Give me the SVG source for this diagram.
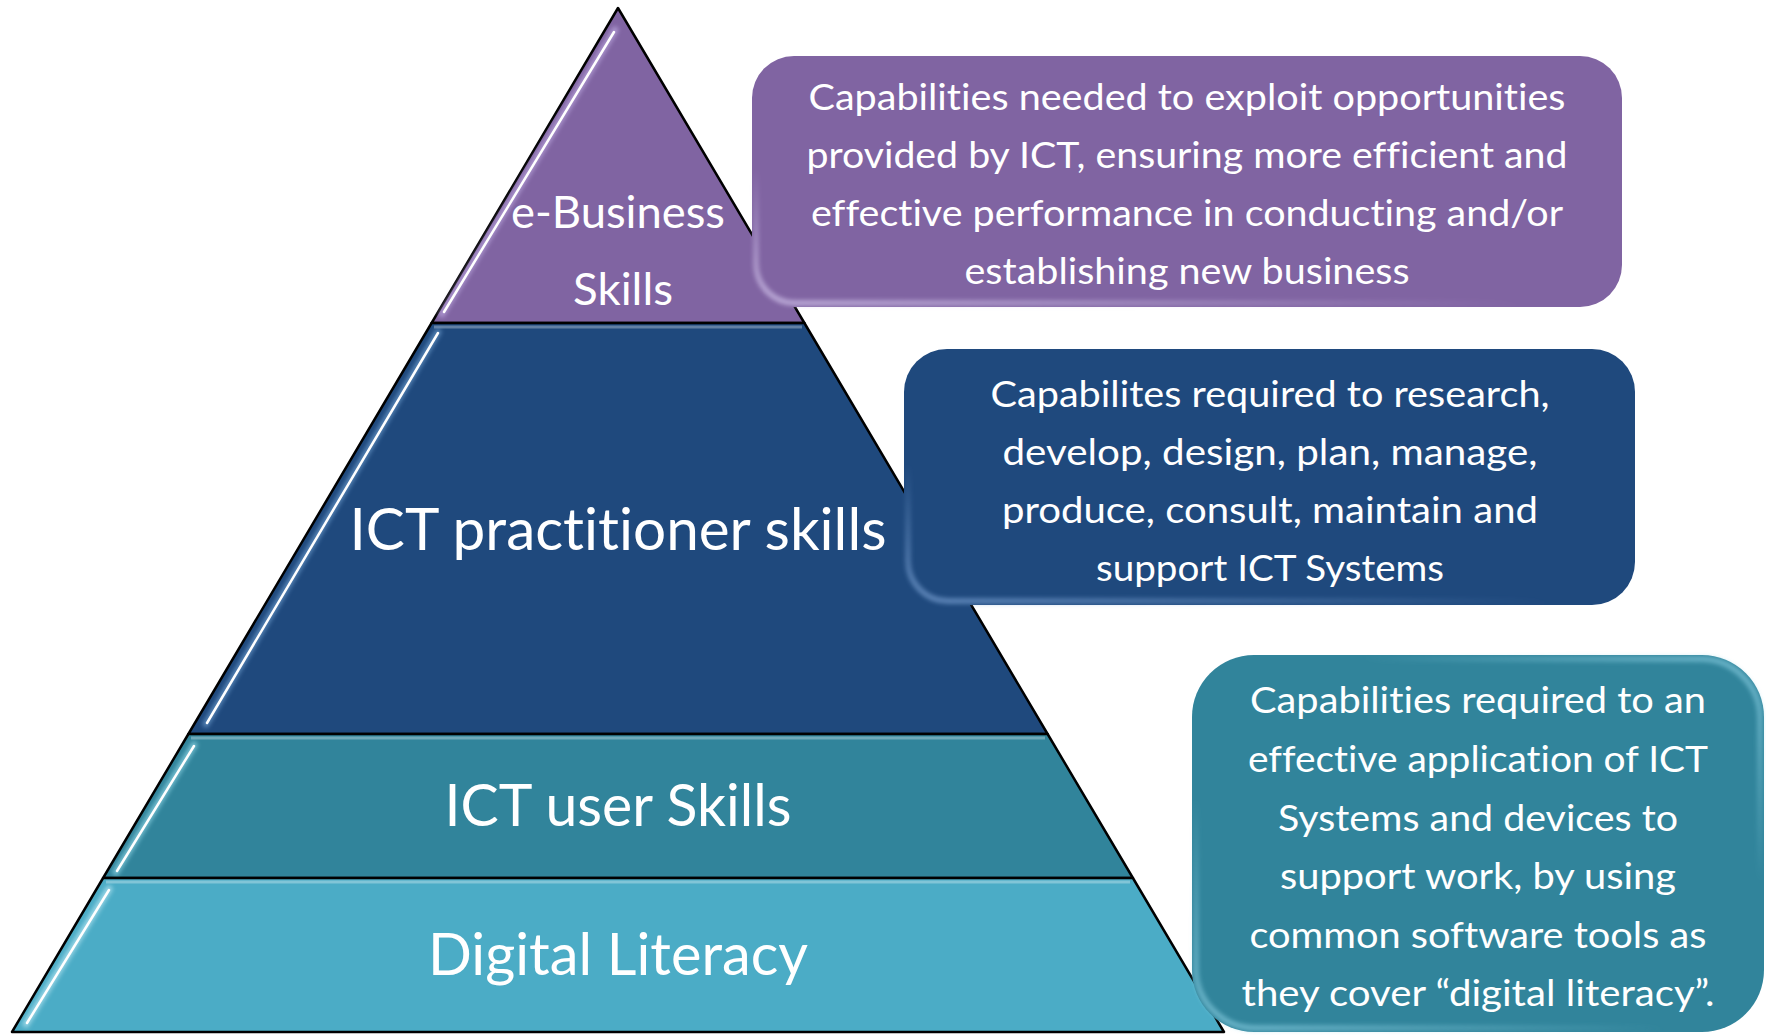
<svg xmlns="http://www.w3.org/2000/svg" width="1766" height="1035" viewBox="0 0 1766 1035">
  <defs>
    <style>
      .layer { stroke: #000000; stroke-width: 2.5; stroke-linejoin: round; }
      .lbl { font-family: Lato, "Open Sans", "Liberation Sans", sans-serif; fill: #ffffff; text-anchor: middle; font-variant-ligatures: none; font-feature-settings: "liga" 0, "clig" 0; }
      .big { font-size: 58px; }
      .mid { font-size: 45px; }
      .box { font-size: 36px; }
      .hlw { fill: none; stroke: #ffffff; stroke-width: 2.5; stroke-linecap: round; }
      .hlg { fill: none; stroke-width: 7; stroke-linecap: round; opacity: 0.55; }
      .topl { fill: none; stroke: #ffffff; stroke-width: 3; opacity: 0.3; }
      .bev { fill: none; stroke-width: 6; opacity: 0.7; }
    </style>
    <filter id="soft" x="-10%" y="-10%" width="120%" height="120%">
      <feGaussianBlur stdDeviation="2"/>
    </filter>
    <linearGradient id="bevP" x1="0" y1="1" x2="0.25" y2="0.6">
      <stop offset="0" stop-color="#d9ccf2" stop-opacity="0.9"/>
      <stop offset="1" stop-color="#d9ccf2" stop-opacity="0"/>
    </linearGradient>
    <linearGradient id="bevB" x1="0" y1="1" x2="0.25" y2="0.6">
      <stop offset="0" stop-color="#7fa6d8" stop-opacity="0.9"/>
      <stop offset="1" stop-color="#7fa6d8" stop-opacity="0"/>
    </linearGradient>
    <linearGradient id="bevT" x1="0" y1="1" x2="0.3" y2="0.6">
      <stop offset="0" stop-color="#8fd3e6" stop-opacity="0.9"/>
      <stop offset="1" stop-color="#8fd3e6" stop-opacity="0"/>
    </linearGradient>
    <linearGradient id="bevT2" x1="1" y1="0" x2="0.7" y2="0.35">
      <stop offset="0" stop-color="#8fd3e6" stop-opacity="0.9"/>
      <stop offset="1" stop-color="#8fd3e6" stop-opacity="0"/>
    </linearGradient>
  </defs>

  <g id="pyramid">
    <g id="layer-ebusiness">
      <polygon class="layer" points="618,8 804.4,323 431.6,323" fill="#8064A2"/>
      <path class="hlg" d="M615,30 L442,314" stroke="#cbb8ee" filter="url(#soft)"/>
      <path class="hlw" d="M614,32 L444,312"/>
      <text class="lbl mid" x="618" y="228" textLength="214" lengthAdjust="spacingAndGlyphs">e-Business</text>
      <text class="lbl mid" x="623" y="305" textLength="100" lengthAdjust="spacingAndGlyphs">Skills</text>
    </g>
    <g id="layer-practitioner">
      <polygon class="layer" points="431.6,323 804.4,323 1047.6,734 188.4,734" fill="#1F497D"/>
      <path class="topl" d="M434,327 L802,327"/>
      <path class="hlg" d="M438,332 L206,724" stroke="#7fb0e0" filter="url(#soft)"/>
      <path class="hlw" d="M438,333 L207,723"/>
      <text class="lbl big" x="618" y="550" textLength="537" lengthAdjust="spacingAndGlyphs">ICT practitioner skills</text>
    </g>
    <g id="layer-user">
      <polygon class="layer" points="188.4,734 1047.6,734 1132.9,878 103.1,878" fill="#31849B"/>
      <path class="topl" d="M191,738 L1045,738"/>
      <path class="hlg" d="M194,745 L116,872" stroke="#a8ecfa" filter="url(#soft)"/>
      <path class="hlw" d="M194,746 L117,871"/>
      <text class="lbl big" x="618" y="826" textLength="347" lengthAdjust="spacingAndGlyphs">ICT user Skills</text>
    </g>
    <g id="layer-digital">
      <polygon class="layer" points="103.1,878 1132.9,878 1224,1032 12,1032" fill="#4BACC6"/>
      <path class="topl" d="M106,882 L1130,882"/>
      <path class="hlg" d="M109,889 L26,1024" stroke="#d4f6ff" filter="url(#soft)"/>
      <path class="hlw" d="M109,890 L27,1023"/>
      <text class="lbl big" x="618" y="975" textLength="380" lengthAdjust="spacingAndGlyphs">Digital Literacy</text>
    </g>
  </g>

  <g id="box-ebusiness">
    <rect x="752" y="56" width="870" height="251" rx="42" ry="42" fill="#8064A2"/>
    <rect class="bev" x="756" y="60" width="862" height="243" rx="39" ry="39" stroke="url(#bevP)" filter="url(#soft)"/>
    <text class="lbl box" x="1187" y="110" textLength="757" lengthAdjust="spacingAndGlyphs">Capabilities needed to exploit opportunities</text>
    <text class="lbl box" x="1187" y="168" textLength="761" lengthAdjust="spacingAndGlyphs">provided by ICT, ensuring more efficient and</text>
    <text class="lbl box" x="1187" y="226" textLength="752" lengthAdjust="spacingAndGlyphs">effective performance in conducting and/or</text>
    <text class="lbl box" x="1187" y="284" textLength="445" lengthAdjust="spacingAndGlyphs">establishing new business</text>
  </g>

  <g id="box-practitioner">
    <rect x="904" y="349" width="731" height="256" rx="43" ry="43" fill="#1F497D"/>
    <rect class="bev" x="908" y="353" width="723" height="248" rx="40" ry="40" stroke="url(#bevB)" filter="url(#soft)"/>
    <text class="lbl box" x="1270" y="407" textLength="559" lengthAdjust="spacingAndGlyphs">Capabilites required to research,</text>
    <text class="lbl box" x="1270" y="465" textLength="535" lengthAdjust="spacingAndGlyphs">develop, design, plan, manage,</text>
    <text class="lbl box" x="1270" y="523" textLength="536" lengthAdjust="spacingAndGlyphs">produce, consult, maintain and</text>
    <text class="lbl box" x="1270" y="581" textLength="348" lengthAdjust="spacingAndGlyphs">support ICT Systems</text>
  </g>

  <g id="box-user">
    <rect x="1192" y="655" width="572" height="377" rx="62" ry="62" fill="#31849B"/>
    <rect class="bev" x="1196" y="659" width="564" height="369" rx="59" ry="59" stroke="url(#bevT)" filter="url(#soft)"/>
    <rect class="bev" x="1196" y="659" width="564" height="369" rx="59" ry="59" stroke="url(#bevT2)" filter="url(#soft)"/>
    <text class="lbl box" x="1478" y="713" textLength="456" lengthAdjust="spacingAndGlyphs">Capabilities required to an</text>
    <text class="lbl box" x="1478" y="772" textLength="460" lengthAdjust="spacingAndGlyphs">effective application of ICT</text>
    <text class="lbl box" x="1478" y="831" textLength="400" lengthAdjust="spacingAndGlyphs">Systems and devices to</text>
    <text class="lbl box" x="1478" y="889" textLength="396" lengthAdjust="spacingAndGlyphs">support work, by using</text>
    <text class="lbl box" x="1478" y="948" textLength="457" lengthAdjust="spacingAndGlyphs">common software tools as</text>
    <text class="lbl box" x="1478" y="1006" textLength="473" lengthAdjust="spacingAndGlyphs">they cover “digital literacy”.</text>
  </g>
</svg>
